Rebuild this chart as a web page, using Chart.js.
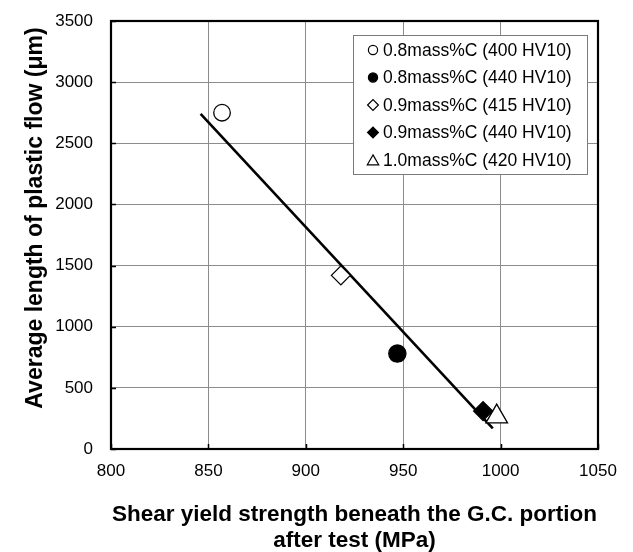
<!DOCTYPE html>
<html>
<head>
<meta charset="utf-8">
<title>Plastic flow length vs shear yield strength</title>
<script src="https://cdn.jsdelivr.net/npm/chart.js@4.4.1/dist/chart.umd.min.js"></script>
<style>
  html, body { margin: 0; padding: 0; background: #ffffff; }
  canvas { display: block; }
</style>
</head>
<body>
<canvas id="chart" width="633" height="552"></canvas>
<script>
// Specimen groups (carbon content and hardness)
const seriesLabels = [
  '0.8mass%C (400 HV10)',
  '0.8mass%C (440 HV10)',
  '0.9mass%C (415 HV10)',
  '0.9mass%C (440 HV10)',
  '1.0mass%C (420 HV10)'
];
// Shear yield strength beneath the G.C. portion after test (MPa)
const shearStrength = [857, 947, 918, 991, 998];
// Average length of plastic flow (µm)
const flowLength = [2750, 780, 1420, 310, 265];
// Fitted trend line end points
const trendX = [846, 996];
const trendY = [2740, 168];
// Axis ranges and tick steps
const xRange = [800, 1050];
const xStep = 50;
const yRange = [0, 3500];
const yStep = 500;

const FONT = '"Liberation Sans", Arial, Helvetica, sans-serif';

const markerStyles = [
  { pointStyle: 'circle',   radius: 8.3, fill: '#ffffff', legendRadius: 4.6 },
  { pointStyle: 'circle',   radius: 8.6, fill: '#000000', legendRadius: 4.6 },
  { pointStyle: 'rectRot',  radius: 9.5, fill: '#ffffff', legendRadius: 5.4 },
  { pointStyle: 'rectRot',  radius: 9.5, fill: '#000000', legendRadius: 5.4 },
  { pointStyle: 'triangle', radius: 12.5, fill: '#ffffff', legendRadius: 6.6 }
];

const datasets = seriesLabels.map((label, i) => ({
  type: 'scatter',
  label: label,
  data: [{ x: shearStrength[i], y: flowLength[i] }],
  pointStyle: markerStyles[i].pointStyle,
  pointRadius: markerStyles[i].radius,
  pointHoverRadius: markerStyles[i].radius,
  pointBackgroundColor: markerStyles[i].fill,
  pointBorderColor: '#000000',
  pointBorderWidth: 1.3,
  order: 1
}));

datasets.push({
  type: 'line',
  label: 'trend',
  data: trendX.map((x, i) => ({ x: x, y: trendY[i] })),
  borderColor: '#000000',
  borderWidth: 2.6,
  pointRadius: 0,
  fill: false,
  order: 2
});

// Frame, inner tick marks, legend box and axis titles
const decorations = {
  id: 'decorations',
  beforeDatasetsDraw(chart) {
    const { ctx, chartArea: a, scales } = chart;
    ctx.save();
    // inner tick marks
    ctx.strokeStyle = '#000000';
    ctx.lineWidth = 1.5;
    ctx.beginPath();
    scales.x.ticks.forEach(t => {
      const px = Math.round(scales.x.getPixelForValue(t.value)) + 0.5;
      ctx.moveTo(px, a.bottom);
      ctx.lineTo(px, a.bottom - 5);
    });
    scales.y.ticks.forEach(t => {
      const py = Math.round(scales.y.getPixelForValue(t.value)) + 0.5;
      ctx.moveTo(a.left, py);
      ctx.lineTo(a.left + 5, py);
    });
    ctx.stroke();
    // plot frame
    ctx.lineWidth = 2.2;
    ctx.strokeRect(a.left, a.top, a.right - a.left, a.bottom - a.top);
    ctx.restore();
  },
  afterDraw(chart) {
    const { ctx, chartArea: a } = chart;
    ctx.save();
    // legend
    const boxW = 234, boxH = 139;
    const bx = a.right - 11 - boxW;
    const by = a.top + 14;
    ctx.fillStyle = '#ffffff';
    ctx.fillRect(bx, by, boxW, boxH);
    ctx.strokeStyle = '#7a7a7a';
    ctx.lineWidth = 1;
    ctx.strokeRect(bx + 0.5, by + 0.5, boxW, boxH);
    ctx.font = '17.5px ' + FONT;
    ctx.textBaseline = 'middle';
    ctx.textAlign = 'left';
    seriesLabels.forEach((label, i) => {
      const cy = by + 15 + i * 27.5;
      const m = markerStyles[i];
      ctx.fillStyle = m.fill;
      ctx.strokeStyle = '#000000';
      ctx.lineWidth = 1.2;
      Chart.helpers.drawPoint(ctx, {
        pointStyle: m.pointStyle,
        radius: m.legendRadius,
        rotation: 0,
        borderWidth: 1.2
      }, bx + 20, cy + (m.pointStyle === 'triangle' ? 1.5 : 0));
      ctx.fillStyle = '#000000';
      ctx.fillText(label, bx + 30, cy + 1);
    });
    // axis titles
    ctx.fillStyle = '#000000';
    ctx.textAlign = 'center';
    ctx.textBaseline = 'middle';
    ctx.font = 'bold 22.5px ' + FONT;
    const cx = (a.left + a.right) / 2;
    ctx.fillText('Shear yield strength beneath the G.C. portion', cx, 515);
    ctx.fillText('after test (MPa)', cx, 541);
    ctx.font = 'bold 23px ' + FONT;
    ctx.translate(36, 218);
    ctx.rotate(-Math.PI / 2);
    ctx.fillText('Average length of plastic flow (\u03bcm)', 0, 0);
    ctx.restore();
  }
};

const plainNumber = v => String(v);

new Chart(document.getElementById('chart'), {
  data: { datasets: datasets },
  options: {
    responsive: false,
    animation: false,
    devicePixelRatio: 1,
    layout: { padding: { left: 0, top: 21, right: 35, bottom: 0 } },
    plugins: {
      legend: { display: false },
      tooltip: { enabled: false }
    },
    scales: {
      x: {
        type: 'linear',
        min: xRange[0],
        max: xRange[1],
        afterFit(scale) {
          scale.height = 103;
          scale.paddingLeft = 0;
          scale.paddingRight = 0;
        },
        ticks: {
          stepSize: xStep,
          color: '#000000',
          padding: 12,
          font: { family: FONT, size: 17 },
          callback: plainNumber
        },
        grid: { color: '#8c8c8c', lineWidth: 1, drawTicks: false },
        border: { display: false }
      },
      y: {
        type: 'linear',
        min: yRange[0],
        max: yRange[1],
        afterFit(scale) {
          scale.width = 111;
          scale.paddingTop = 0;
          scale.paddingBottom = 0;
        },
        ticks: {
          stepSize: yStep,
          color: '#000000',
          padding: 18,
          font: { family: FONT, size: 17 },
          callback: plainNumber
        },
        grid: { color: '#8c8c8c', lineWidth: 1, drawTicks: false },
        border: { display: false }
      }
    }
  },
  plugins: [decorations]
});
</script>
</body>
</html>
